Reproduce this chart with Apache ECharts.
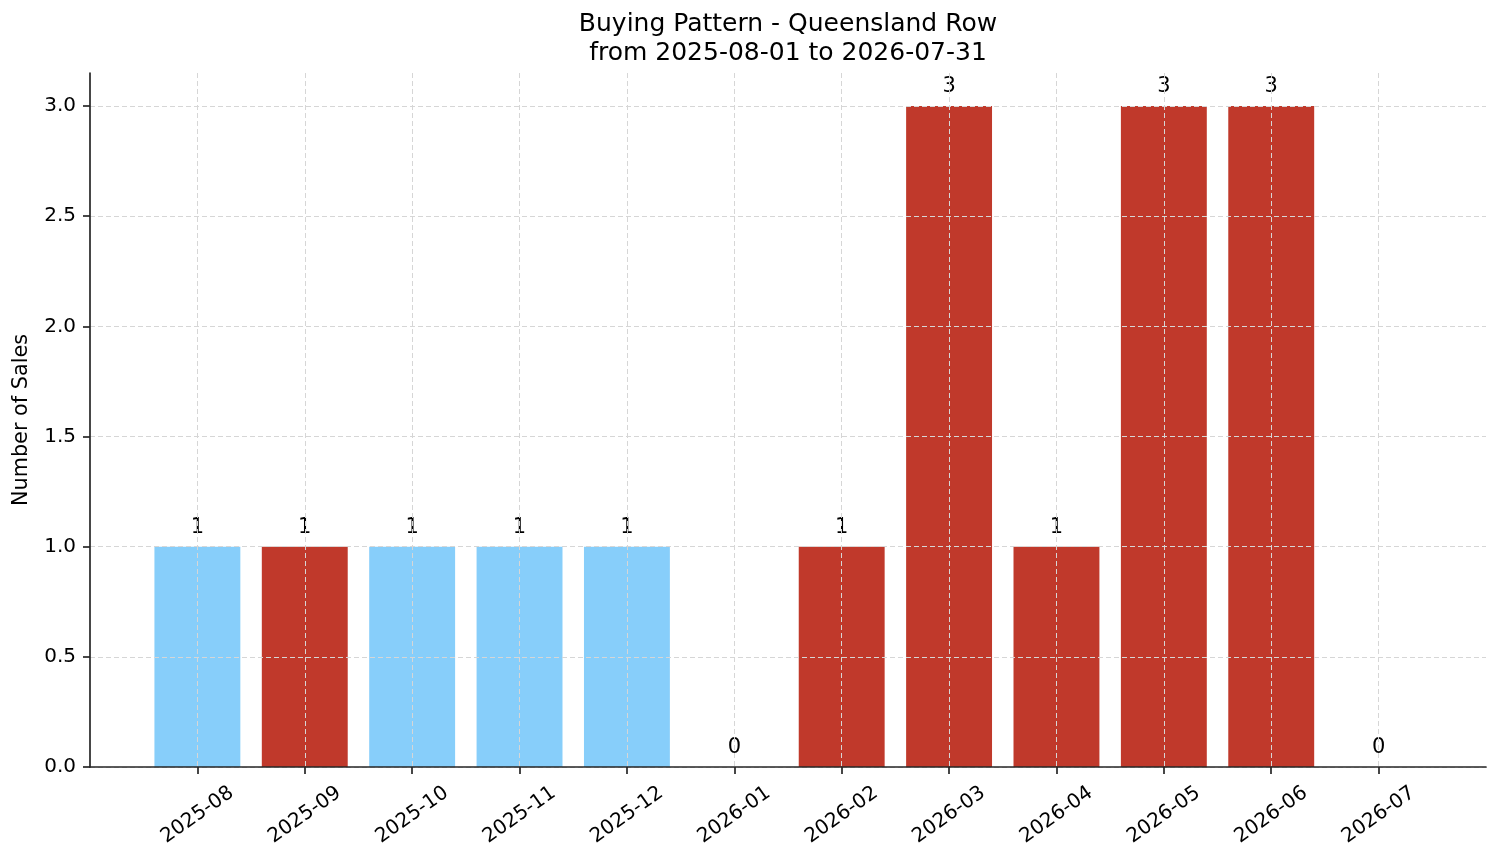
<!DOCTYPE html>
<html>
<head>
<meta charset="utf-8">
<title>Buying Pattern - Queensland Row</title>
<script src="https://cdn.jsdelivr.net/npm/echarts@6/dist/echarts.min.js"></script>
<style>
  html, body { margin: 0; padding: 0; background: #fff; }
  #chart-container { width: 1501px; height: 863px; }
</style>
</head>
<body>
<div id="chart-container"></div>
<script>
// 每月資料
const months = ['2025-08', '2025-09', '2025-10', '2025-11', '2025-12', '2026-01',
  '2026-02', '2026-03', '2026-04', '2026-05', '2026-06', '2026-07'];
const sales = [1, 1, 1, 1, 1, 0, 1, 3, 1, 3, 3, 0];
// 標記月份（紅色）
const flagged = [false, true, false, false, false, false, true, true, true, true, true, false];
const yTicks = [0, 0.5, 1.0, 1.5, 2.0, 2.5, 3.0];

function renderChart() {
  const dom = document.getElementById('chart-container');
  const myChart = echarts.init(dom, null, { renderer: 'canvas' });

  const axisColor = '#262626';
  const gridLine = { show: true, lineStyle: { color: '#d6d6d6', width: 1, type: [5, 3] } };
  const tickIdx = months.map((m, i) => i);

  const barData = months.map((m, i) => ({
    value: [i, sales[i]],
    itemStyle: { color: flagged[i] ? '#C0392B' : '#87CEFA' }
  }));

  const option = {
    animation: false,
    backgroundColor: '#ffffff',
    textStyle: { fontFamily: 'DejaVu Sans' },
    title: {
      text: 'Buying Pattern - Queensland Row\nfrom 2025-08-01 to 2026-07-31',
      left: 788,
      top: 10,
      padding: 0,
      textAlign: 'center',
      textStyle: {
        fontFamily: 'DejaVu Sans',
        fontSize: 25,
        fontWeight: 'normal',
        color: '#000',
        lineHeight: 29,
        align: 'center'
      }
    },
    grid: { left: 90, right: 15, top: 73, bottom: 96, containLabel: false, outerBoundsMode: 'none' },
    xAxis: {
      type: 'value',
      min: -1,
      max: 12,
      interval: 1,
      z: 3,
      axisLine: { onZero: false, lineStyle: { color: axisColor, width: 1.7 } },
      axisTick: { customValues: tickIdx, length: 7, lineStyle: { color: axisColor, width: 1.7 } },
      axisLabel: {
        customValues: tickIdx,
        rotate: 35,
        align: 'center',
        verticalAlign: 'middle',
        margin: 48,
        fontSize: 20,
        color: '#000',
        formatter: v => months[v] || ''
      },
      splitLine: gridLine
    },
    yAxis: {
      type: 'value',
      min: 0,
      max: 3.15,
      interval: 0.5,
      z: 3,
      name: 'Number of Sales',
      nameLocation: 'middle',
      nameGap: 58,
      nameTextStyle: { fontSize: 20.8, color: '#000' },
      axisLine: { show: true, onZero: false, lineStyle: { color: axisColor, width: 1.7 } },
      axisTick: { show: true, customValues: yTicks, length: 7, lineStyle: { color: axisColor, width: 1.7 } },
      axisLabel: {
        customValues: yTicks,
        fontSize: 20,
        color: '#000',
        margin: 14,
        formatter: v => v.toFixed(1)
      },
      splitLine: gridLine
    },
    series: [
      {
        type: 'bar',
        barWidth: '80%',
        data: barData,
        label: {
          show: true,
          position: 'top',
          distance: 9,
          fontSize: 21,
          color: '#000',
          formatter: p => String(p.value[1])
        }
      }
    ]
  };

  myChart.setOption(option);
  window.addEventListener('resize', myChart.resize);
}
renderChart();
</script>
</body>
</html>
